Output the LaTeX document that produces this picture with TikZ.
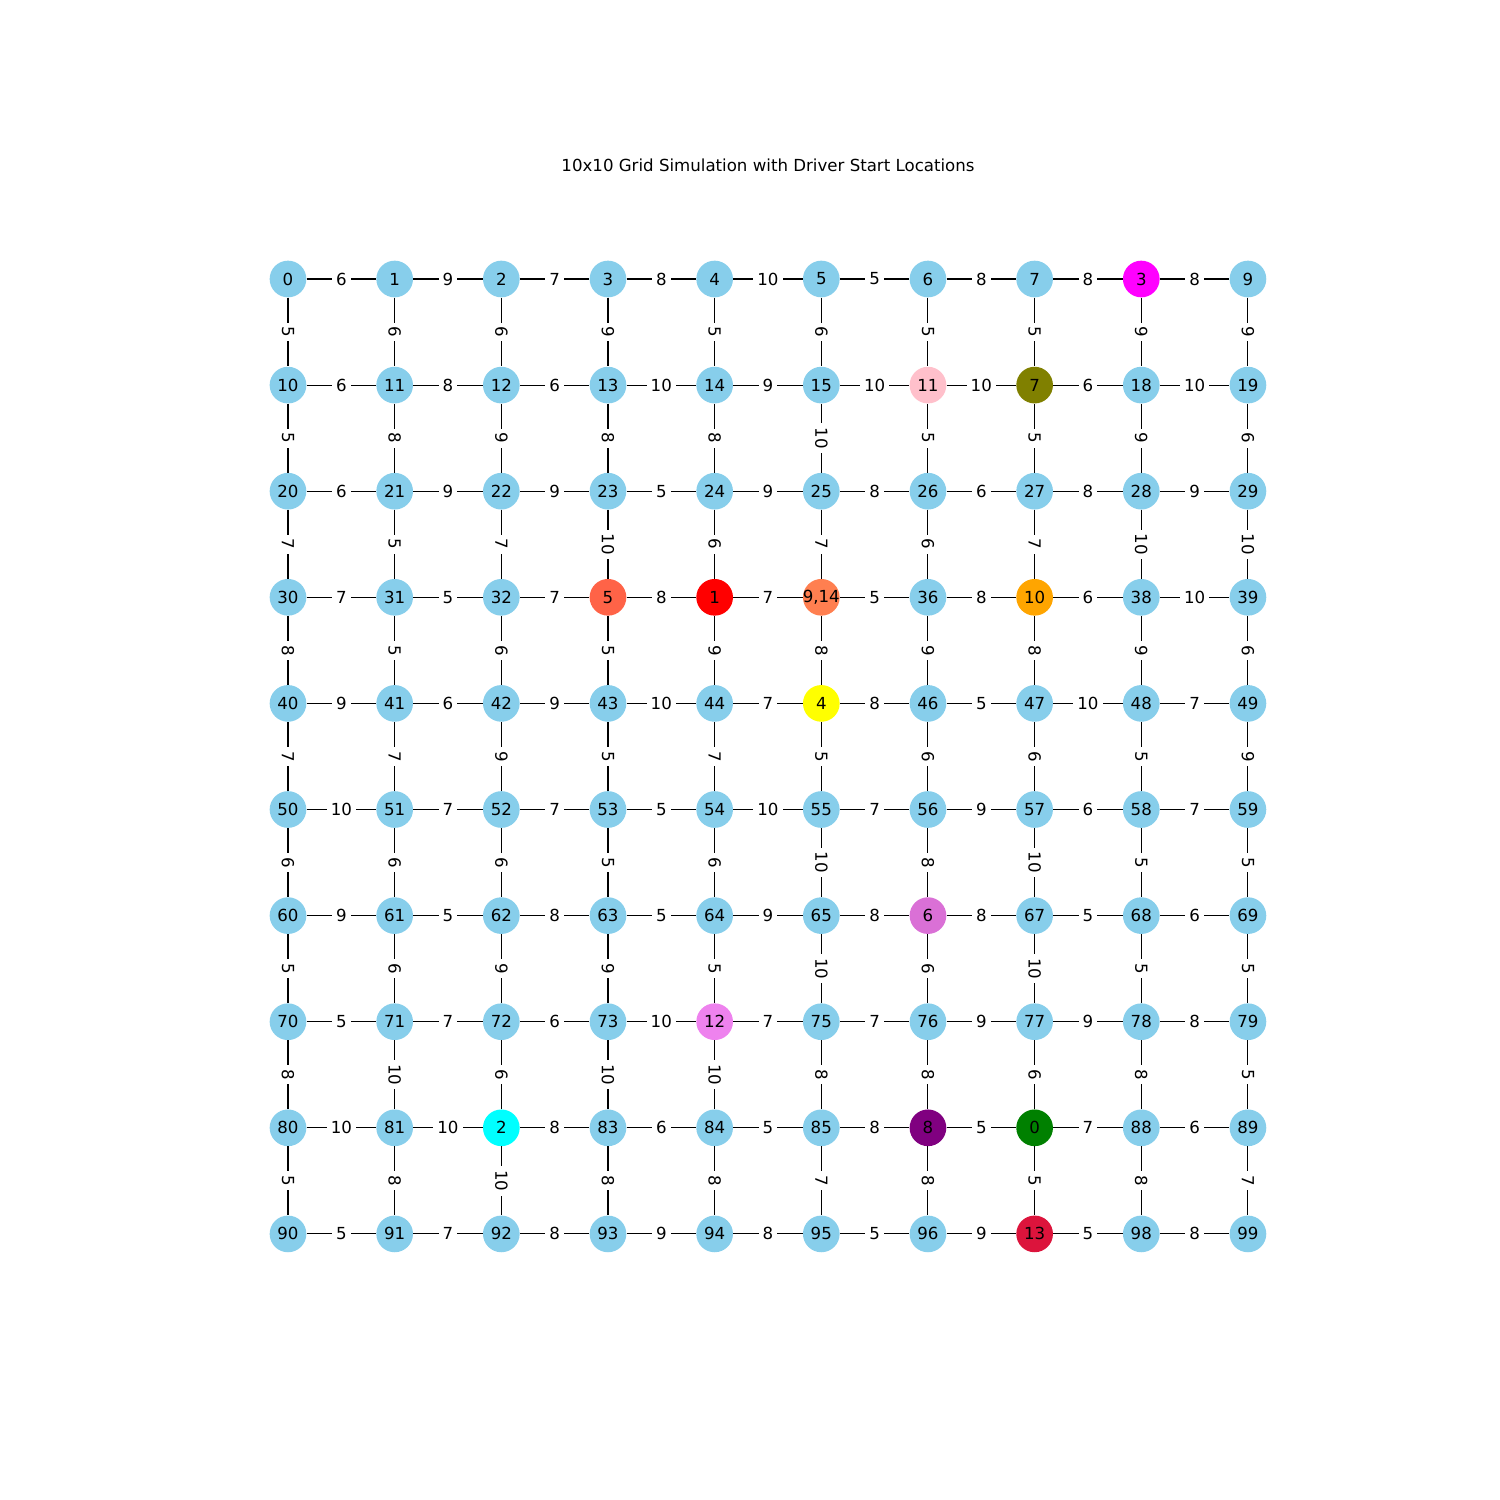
\documentclass[tikz,border=0pt]{standalone}
\usepackage{fontspec}
\setmainfont{DejaVu Sans}
\usepackage{xcolor}
\definecolor{sky}{HTML}{87CEEB}
\definecolor{dMagenta}{HTML}{FF00FF}
\definecolor{dPink}{HTML}{FFC0CB}
\definecolor{dOlive}{HTML}{808000}
\definecolor{dTomato}{HTML}{FF6347}
\definecolor{dRed}{HTML}{FF0000}
\definecolor{dCoral}{HTML}{FF7F50}
\definecolor{dOrange}{HTML}{FFA500}
\definecolor{dYellow}{HTML}{FFFF00}
\definecolor{dOrchid}{HTML}{DA70D6}
\definecolor{dViolet}{HTML}{EE82EE}
\definecolor{dCyan}{HTML}{00FFFF}
\definecolor{dPurple}{HTML}{800080}
\definecolor{dGreen}{HTML}{008000}
\definecolor{dCrimson}{HTML}{DC143C}
% driver start: node id, label, colour
\newcommand\setdriver[3]{%
  \expandafter\def\csname dlab#1\endcsname{#2}%
  \expandafter\def\csname dcol#1\endcsname{#3}}
\setdriver{8}{3}{dMagenta}
\setdriver{16}{11}{dPink}
\setdriver{17}{7}{dOlive}
\setdriver{33}{5}{dTomato}
\setdriver{34}{1}{dRed}
\setdriver{35}{9,14}{dCoral}
\setdriver{37}{10}{dOrange}
\setdriver{45}{4}{dYellow}
\setdriver{66}{6}{dOrchid}
\setdriver{74}{12}{dViolet}
\setdriver{82}{2}{dCyan}
\setdriver{86}{8}{dPurple}
\setdriver{87}{0}{dGreen}
\setdriver{97}{13}{dCrimson}

\begin{document}
\begin{tikzpicture}[x=0.01in,y=-0.01in,
    city/.style={circle,fill=sky,minimum size=26.5pt,inner sep=0pt,
                 font=\fontsize{12}{14}\selectfont},
    wt/.style={fill=white,inner xsep=3pt,inner ysep=2pt,
               font=\fontsize{12}{14}\selectfont},
    road/.style={black,line width=0.75pt}]
  \useasboundingbox (0,0) rectangle (1500,1500);
  \node[font=\fontsize{12}{14}\selectfont] (title) at (768,165)
    {10x10 Grid Simulation with Driver Start Locations};
  \foreach \r in {0,...,9}
    \foreach \c in {0,...,9}{
      \pgfmathtruncatemacro{\id}{10*\r+\c}
      \ifcsname dlab\id\endcsname
        \edef\dc{\csname dcol\id\endcsname}
        \node[city,fill=\dc] (n\id) at (288+106.66*\c,279+106.1*\r)
          {\makebox[0pt]{\csname dlab\id\endcsname}};
      \else
        \node[city] (n\id) at (288+106.66*\c,279+106.1*\r) {\makebox[0pt]{\id}};
      \fi
    }
  % horizontal roads
  \foreach \r/\ws in {0/{6,9,7,8,10,5,8,8,8},1/{6,8,6,10,9,10,10,6,10},
                      2/{6,9,9,5,9,8,6,8,9},3/{7,5,7,8,7,5,8,6,10},
                      4/{9,6,9,10,7,8,5,10,7},5/{10,7,7,5,10,7,9,6,7},
                      6/{9,5,8,5,9,8,8,5,6},7/{5,7,6,10,7,7,9,9,8},
                      8/{10,10,8,6,5,8,5,7,6},9/{5,7,8,9,8,5,9,5,8}}
    \foreach \w [count=\c from 0] in \ws {
      \pgfmathtruncatemacro{\a}{10*\r+\c}
      \pgfmathtruncatemacro{\b}{\a+1}
      \draw[road] (n\a) -- node[wt] {\w} (n\b);
    }
  % vertical roads
  \foreach \r/\ws in {0/{5,6,6,9,5,6,5,5,9,9},1/{5,8,9,8,8,10,5,5,9,6},
                      2/{7,5,7,10,6,7,6,7,10,10},3/{8,5,6,5,9,8,9,8,9,6},
                      4/{7,7,9,5,7,5,6,6,5,9},5/{6,6,6,5,6,10,8,10,5,5},
                      6/{5,6,9,9,5,10,6,10,5,5},7/{8,10,6,10,10,8,8,6,8,5},
                      8/{5,8,10,8,8,7,8,5,8,7}}
    \foreach \w [count=\c from 0] in \ws {
      \pgfmathtruncatemacro{\a}{10*\r+\c}
      \pgfmathtruncatemacro{\b}{\a+10}
      \draw[road] (n\a) -- node[wt,rotate=-90] {\w} (n\b);
    }
\end{tikzpicture}
\end{document}
